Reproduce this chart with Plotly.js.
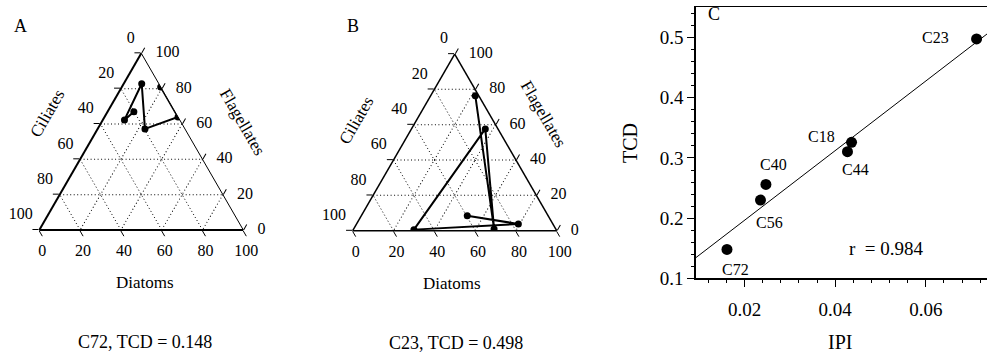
<!DOCTYPE html>
<html><head><meta charset="utf-8">
<script src="https://cdn.plot.ly/plotly-3.0.1.min.js"></script>
<style>html,body{margin:0;padding:0;background:#fff}#chart{width:987px;height:354px}</style>
</head><body><div id="chart"></div>
<script>
// ---------- DATA ----------
// Panel A (station C72): ternary path, percentages
const aFlag = [81.0, 64.0, 57.2, 82.8, 62.3, 66.9];
const aCil  = [0.0, 0.0, 19.6, 8.4, 27.1, 20.2];
const aDiat = [19.0, 36.0, 23.2, 8.8, 10.6, 12.9];
// Panel B (station C23)
const bFlag = [76.4, 1.0, 57.6, 0.6, 3.8, 8.5];
const bCil  = [1.7, 30.2, 6.2, 69.7, 16.9, 39.6];
const bDiat = [21.9, 68.8, 36.2, 29.7, 79.3, 51.9];
// Panel C
const stations = ['C23', 'C18', 'C44', 'C40', 'C56', 'C72'];
const ipi = [0.0712, 0.0436, 0.0427, 0.0247, 0.0235, 0.0161];
const tcd = [0.498, 0.326, 0.3105, 0.256, 0.230, 0.148];
// tick labels
const ternaryTicks = [0, 20, 40, 60, 80, 100];
const ternaryTickText = ['0', '20', '40', '60', '80', '100'];
const xTicks = [0.02, 0.04, 0.06];
const xTickText = ['0.02', '0.04', '0.06'];
const yTicks = [0.1, 0.2, 0.3, 0.4, 0.5];
const yTickText = ['0.1', '0.2', '0.3', '0.4', '0.5'];
const captionA = 'C72, TCD = 0.148';
const captionB = 'C23, TCD = 0.498';
const rText = 'r\u00a0 = 0.984';

// ---------- LAYOUT HELPERS ----------
const W = 987, H = 354;
const px = x => x / W;
const py = y => 1 - y / H;
const FONT = 'Liberation Serif';
const TFONT = {size: 16, color: '#000', family: FONT};

// bottom edge reads Diatoms 0 -> 100 left to right
const bottomText = ternaryTicks.map(v => String(100 - v));

function ternAxis(lw, labels) {
  return {
    title: {text: ''}, min: 0,
    tickmode: 'array', tickvals: ternaryTicks, ticktext: bottomText,
    showticklabels: labels,
    ticks: 'outside', ticklen: 6, tickwidth: 1, tickcolor: '#000',
    showline: true, linecolor: '#000', linewidth: lw,
    showgrid: true, gridcolor: '#000', gridwidth: 1, griddash: '1px,2.5px',
    tickfont: TFONT,
    layer: 'below traces'
  };
}

// regression line (least squares from the data)
const n = ipi.length;
const mx = ipi.reduce((s, v) => s + v, 0) / n;
const my = tcd.reduce((s, v) => s + v, 0) / n;
let sxy = 0, sxx = 0;
for (let i = 0; i < n; i++) { sxy += (ipi[i] - mx) * (tcd[i] - my); sxx += (ipi[i] - mx) ** 2; }
const slope = sxy / sxx, icpt = my - slope * mx;
const xRange = [0.0092, 0.0735];
const fitX = xRange.slice();
const fitY = fitX.map(x => icpt + slope * x);

const zeros = ternaryTicks.map(() => 0);
const compl = ternaryTicks.map(v => 100 - v);
// edge tick labels placed through the ternary scales
function edgeLabels(sub) {
  return [
    // left edge: Ciliates (0 at top, 100 at lower-left)
    {type: 'scatterternary', subplot: sub, mode: 'markers+text',
     a: compl, b: ternaryTicks, c: zeros, text: ternaryTickText,
     textposition: 'top left', textfont: TFONT, cliponaxis: false,
     marker: {size: 9, color: 'rgba(0,0,0,0)'}, hoverinfo: 'skip'},
    // right edge: Flagellates (0 at lower-right, 100 at top)
    {type: 'scatterternary', subplot: sub, mode: 'markers+text',
     a: ternaryTicks, b: zeros, c: compl, text: ternaryTickText,
     textposition: 'middle right', textfont: TFONT, cliponaxis: false,
     marker: {size: 21, color: 'rgba(0,0,0,0)'}, hoverinfo: 'skip'}
  ];
}

const traces = [
  ...edgeLabels('ternary'),
  ...edgeLabels('ternary2'),
  {type: 'scatterternary', subplot: 'ternary', mode: 'lines+markers',
   a: aFlag, b: aCil, c: aDiat,
   line: {color: '#000', width: 2}, marker: {color: '#000', size: 7},
   hoverinfo: 'skip'},
  {type: 'scatterternary', subplot: 'ternary2', mode: 'lines+markers',
   a: bFlag, b: bCil, c: bDiat,
   line: {color: '#000', width: 2}, marker: {color: '#000', size: 7},
   hoverinfo: 'skip'},
  {type: 'scatter', mode: 'lines', x: fitX, y: fitY,
   line: {color: '#000', width: 1}, hoverinfo: 'skip', cliponaxis: true},
  {type: 'scatter', mode: 'markers', x: ipi, y: tcd,
   marker: {color: '#000', size: 11}, hoverinfo: 'skip'}
];

// label offsets (px) for the station names in panel C
const labShift = {
  C23: [-41, 1], C18: [-30, 6], C44: [8, -18],
  C40: [8, 20], C56: [9, -22], C72: [9, -20]
};

const annotations = [];
stations.forEach((s, i) => {
  annotations.push({xref: 'x', yref: 'y', x: ipi[i], y: tcd[i], text: s,
    showarrow: false, xshift: labShift[s][0], yshift: labShift[s][1],
    font: {size: 16, family: FONT, color: '#000'}});
});
function txt(x, y, text, size, extra) {
  annotations.push(Object.assign({xref: 'paper', yref: 'paper', x: px(x), y: py(y),
    text: text, showarrow: false, xanchor: 'center', yanchor: 'middle',
    font: {size: size, family: FONT, color: '#000'}}, extra || {}));
}
txt(20, 26, 'A', 18);
txt(353, 26, 'B', 18);
txt(714, 14, 'C', 18);
txt(47, 113, 'Ciliates', 17, {textangle: -60});
txt(243, 122, 'Flagellates', 17, {textangle: 60});
txt(145, 282, 'Diatoms', 17);
txt(356, 120, 'Ciliates', 17, {textangle: -60});
txt(544, 114, 'Flagellates', 17, {textangle: 60});
txt(452, 283, 'Diatoms', 17);
txt(145, 342, captionA, 18);
txt(456, 343, captionB, 18);
txt(630, 143, 'TCD', 20, {textangle: -90});
txt(840, 342, 'IPI', 20);
txt(886, 248, rText, 19);

const layout = {
  width: W, height: H,
  margin: {l: 0, r: 0, t: 0, b: 0},
  paper_bgcolor: '#fff', plot_bgcolor: '#fff',
  showlegend: false,
  font: {family: FONT, color: '#000'},
  ternary: {
    domain: {x: [px(39.3), px(243.3)], y: [py(230), py(53.3)]},
    sum: 100, bgcolor: '#fff',
    aaxis: ternAxis(2, false), baxis: ternAxis(2, true), caxis: ternAxis(1, false)
  },
  ternary2: {
    domain: {x: [px(352.7), px(556.7)], y: [py(230.7), py(54)]},
    sum: 100, bgcolor: '#fff',
    aaxis: ternAxis(1.5, false), baxis: ternAxis(1.5, true), caxis: ternAxis(1.5, false)
  },
  xaxis: {
    domain: [px(695.7), 1], range: xRange,
    tickmode: 'array', tickvals: xTicks, ticktext: xTickText,
    ticks: 'outside', ticklen: 7, tickwidth: 1, tickcolor: '#000',
    minor: {dtick: 0.004, tick0: 0, ticks: 'outside', ticklen: 3, tickcolor: '#000', showgrid: false},
    showline: true, linecolor: '#000', linewidth: 1.5, mirror: true,
    showgrid: false, zeroline: false,
    tickfont: {size: 19, family: FONT, color: '#000'},
    ticklabelstandoff: 6
  },
  yaxis: {
    domain: [py(278.3), py(7)], range: [0.1, 0.551],
    tickmode: 'array', tickvals: yTicks, ticktext: yTickText,
    ticks: 'outside', ticklen: 7, tickwidth: 1, tickcolor: '#000',
    minor: {dtick: 0.02, tick0: 0, ticks: 'outside', ticklen: 3, tickcolor: '#000', showgrid: false},
    showline: true, linecolor: '#000', linewidth: 1.5, mirror: false,
    showgrid: false, zeroline: false,
    tickfont: {size: 19, family: FONT, color: '#000'}
  },
  annotations: annotations
};

Plotly.newPlot('chart', traces, layout, {displayModeBar: false, staticPlot: true});
</script>
</body></html>
